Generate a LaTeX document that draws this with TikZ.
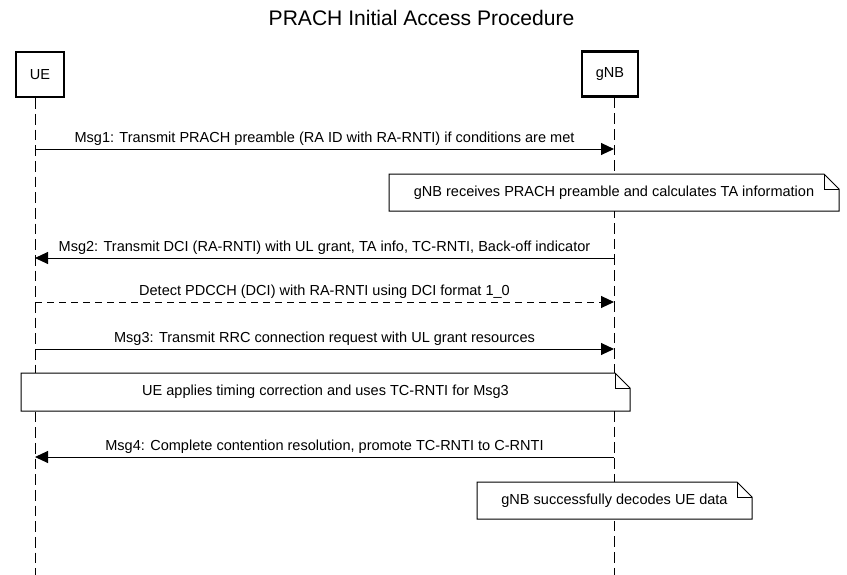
\documentclass[tikz,border=0pt]{standalone}
\usepackage{fontspec}
\setmainfont{Liberation Sans}
\usetikzlibrary{arrows.meta}
\newcommand{\msgfont}{\fontsize{10.9pt}{12pt}\selectfont}
\tikzset{
actor box/.style={draw, line width=1.9pt, fill=white, inner xsep=10.5pt, minimum height=33.75pt, font=\msgfont},
life line/.style={line width=0.75pt, dash pattern=on 8pt off 3.75pt},
msg arrow/.style={line width=0.75pt, -{Triangle[length=9.75pt,width=9pt]}},
dashed msg arrow/.style={msg arrow, dash pattern=on 5.25pt off 3.75pt},
msg label/.style={above, inner sep=2.5pt, font=\msgfont},
note line/.style={line width=0.75pt},
note text/.style={font=\msgfont},
}
% name, x1, y1, x2, y2, text
\newcommand{\notebox}[6]{
  \fill[white] (#2,#3) rectangle (#4,#5);
  \draw[note line] (#2,#3) -- (#4-15,#3) -- (#4,#3+15) -- (#4,#5) -- (#2,#5) -- cycle;
  \draw[note line] (#4-15,#3) -- (#4-15,#3+15) -- (#4,#3+15);
  \node[note text] (#1) at ({(#2+#4)/2},{(#3+#5)/2}) {#6};
}

\begin{document}
\begin{tikzpicture}[x=0.75pt,y=-0.75pt]
        \useasboundingbox (0,0) rectangle (847,575);
        \node[font=\fontsize{15.8pt}{18pt}\selectfont] (title) at (421.5,18) {PRACH Initial Access Procedure};
        % participants
        \node[actor box] (ue) at (40,74.5) {UE};
        \node[actor box] (gnb) at (610,74) {gNB};
        \coordinate (ueend) at (35,575);
        \coordinate (gnbend) at (614,575);
        \draw[life line] (ue.south -| ueend) -- (ueend);
        \draw[life line] (gnb.south -| gnbend) -- (gnbend);
        % messages
        \foreach \i/\y in {1/149,2/258,3/302,4/349,5/457} {
            \coordinate (ue\i) at (35,\y);
            \coordinate (gnb\i) at (614,\y);
        }
        \draw[msg arrow] (ue1) -- node[msg label] {Msg1: Transmit PRACH preamble (RA ID with RA-RNTI) if conditions are met} (gnb1);
        \notebox{note1}{389}{174}{839}{211}{gNB receives PRACH preamble and calculates TA information}
        \draw[msg arrow] (gnb2) -- node[msg label] {Msg2: Transmit DCI (RA-RNTI) with UL grant, TA info, TC-RNTI, Back-off indicator} (ue2);
        \draw[dashed msg arrow] (ue3) -- node[msg label] {Detect PDCCH (DCI) with RA-RNTI using DCI format 1\_0} (gnb3);
        \draw[msg arrow] (ue4) -- node[msg label] {Msg3: Transmit RRC connection request with UL grant resources} (gnb4);
        \notebox{note2}{21}{373}{630}{411}{UE applies timing correction and uses TC-RNTI for Msg3}
        \draw[msg arrow] (gnb5) -- node[msg label] {Msg4: Complete contention resolution, promote TC-RNTI to C-RNTI} (ue5);
        \notebox{note3}{477}{482}{752}{519}{gNB successfully decodes UE data}
    \end{tikzpicture}
\end{document}
